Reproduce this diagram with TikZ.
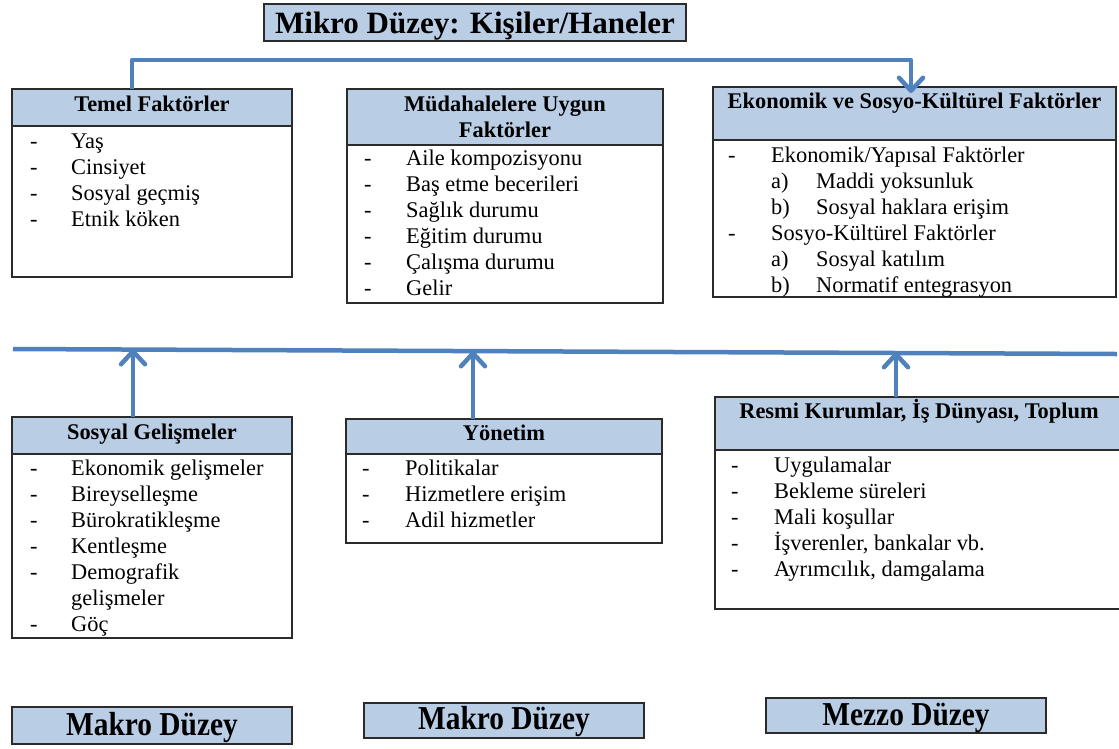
\documentclass[tikz,border=0pt]{standalone}
\usepackage{fontspec}
\setmainfont{Liberation Serif}
\newfontfamily\condfont{Liberation Serif}[FakeStretch=0.88]
\usetikzlibrary{arrows.meta,calc}
\definecolor{hdrblue}{HTML}{B9CDE5}
\definecolor{connblue}{HTML}{4F81BD}
\definecolor{edgegray}{HTML}{2B2B2B}
\begin{document}
\begin{tikzpicture}[x=1pt,y=-1pt,
 frame/.style={draw=edgegray, line width=1.4pt, inner sep=0pt, outer sep=0pt, anchor=north west},
 hdr/.style={frame, fill=hdrblue},
 bodyb/.style={frame, fill=white},
 htxt/.style={font=\fontsize{22.4}{26}\selectfont\bfseries, inner sep=0pt, anchor=base},
 itm/.style={font=\fontsize{22.4}{26}\selectfont, inner sep=0pt, anchor=base west},
 conn/.style={draw=connblue, line width=4.5pt, line join=round},
 arr/.style={conn, -{Straight Barb[length=13pt,width=24pt,round]}},
 lvl/.style={font=\condfont\fontsize{33.4}{38}\selectfont\bfseries, inner sep=0pt, anchor=base},
 ttl/.style={font=\fontsize{31}{36}\selectfont\bfseries, inner sep=0pt, anchor=base}
]
\useasboundingbox (0,0) rectangle (1119,748);

% title
\node[hdr, minimum width=422pt, minimum height=37pt] (title) at (264,4) {};
\node[ttl] (titleT) at (475,33) {Mikro Düzey: Kişiler/Haneler};

% Temel
\node[hdr, minimum width=280pt, minimum height=37pt] (temH) at (12,89) {};
\node[bodyb, minimum width=280pt, minimum height=151pt] (temB) at (temH.south west) {};
\node[htxt] (temT) at (152,111) {Temel Faktörler};
\foreach \t [count=\i from 0] in {Yaş,Cinsiyet,Sosyal geçmiş,Etnik köken}{
  \node[itm] (tem-d\i) at (30,{148+26*\i}) {-};
  \node[itm] (tem-t\i) at (71,{148+26*\i}) {\t};
}

% Mudahalelere
\node[hdr, minimum width=316pt, minimum height=56pt] (mudH) at (347,89) {};
\node[bodyb, minimum width=316pt, minimum height=158pt] (mudB) at (mudH.south west) {};
\node[htxt] (mudT1) at (505,111) {Müdahalelere Uygun};
\node[htxt] (mudT2) at (505,137) {Faktörler};
\foreach \t [count=\i from 0] in {Aile kompozisyonu,Baş etme becerileri,Sağlık durumu,Eğitim durumu,Çalışma durumu,Gelir}{
  \node[itm] (mud-d\i) at (364,{165+26*\i}) {-};
  \node[itm] (mud-t\i) at (406,{165+26*\i}) {\t};
}

% Ekonomik
\node[hdr, minimum width=403pt, minimum height=53pt] (ekoH) at (713,87) {};
\node[bodyb, minimum width=403pt, minimum height=157pt] (ekoB) at (ekoH.south west) {};
\node[htxt] (ekoT) at (914.5,108) {Ekonomik ve Sosyo-Kültürel Faktörler};
\node[itm] (eko-d0) at (728,162) {-};
\node[itm] (eko-t0) at (771,162) {Ekonomik/Yapısal Faktörler};
\node[itm] (eko-a1) at (771,188) {a)};
\node[itm] (eko-t1) at (816,188) {Maddi yoksunluk};
\node[itm] (eko-a2) at (771,214) {b)};
\node[itm] (eko-t2) at (816,214) {Sosyal haklara erişim};
\node[itm] (eko-d3) at (728,240) {-};
\node[itm] (eko-t3) at (771,240) {Sosyo-Kültürel Faktörler};
\node[itm] (eko-a4) at (771,266) {a)};
\node[itm] (eko-t4) at (816,266) {Sosyal katılım};
\node[itm] (eko-a5) at (771,292) {b)};
\node[itm] (eko-t5) at (816,292) {Normatif entegrasyon};

% Sosyal Gelismeler
\node[hdr, minimum width=280pt, minimum height=37pt] (sosH) at (12,417) {};
\node[bodyb, minimum width=280pt, minimum height=184pt] (sosB) at (sosH.south west) {};
\node[htxt] (sosT) at (152,439) {Sosyal Gelişmeler};
\foreach \t [count=\i from 0] in {Ekonomik gelişmeler,Bireyselleşme,Bürokratikleşme,Kentleşme,Demografik,gelişmeler,Göç}{
  \node[itm] (sos-t\i) at (71,{475+26*\i}) {\t};
}
\foreach \i in {0,1,2,3,4,6}{
  \node[itm] (sos-d\i) at (30,{475+26*\i}) {-};
}

% Yonetim
\node[hdr, minimum width=316pt, minimum height=35pt] (yonH) at (346,419) {};
\node[bodyb, minimum width=316pt, minimum height=89pt] (yonB) at (yonH.south west) {};
\node[htxt] (yonT) at (504,440) {Yönetim};
\foreach \t [count=\i from 0] in {Politikalar,Hizmetlere erişim,Adil hizmetler}{
  \node[itm] (yon-d\i) at (362,{475+26*\i}) {-};
  \node[itm] (yon-t\i) at (405,{475+26*\i}) {\t};
}

% Resmi Kurumlar
\node[hdr, minimum width=405pt, minimum height=53pt] (resH) at (715,397) {};
\node[bodyb, minimum width=405pt, minimum height=159pt] (resB) at (resH.south west) {};
\node[htxt] (resT) at (919,418) {Resmi Kurumlar, İş Dünyası, Toplum};
\foreach \t [count=\i from 0] in {Uygulamalar,Bekleme süreleri,Mali koşullar,{İşverenler, bankalar vb.},{Ayrımcılık, damgalama}}{
  \node[itm] (res-d\i) at (731,{472+26*\i}) {-};
  \node[itm] (res-t\i) at (774,{472+26*\i}) {\t};
}

% level labels
\node[hdr, minimum width=280pt, minimum height=37pt] (mak1) at (12,707) {};
\node[lvl] (mak1T) at (152,735) {Makro Düzey};
\node[hdr, minimum width=280pt, minimum height=35pt] (mak2) at (364,703) {};
\node[lvl] (mak2T) at (504,729) {Makro Düzey};
\node[hdr, minimum width=280pt, minimum height=35pt] (mez) at (766,698) {};
\node[lvl] (mezT) at (906,725) {Mezzo Düzey};

% connectors
\coordinate (elbow) at (520,60);
\draw[arr] ([xshift=120pt]temH.north west) |- (elbow) -| ([xshift=-3.5pt,yshift=-6pt]ekoH.north);

\coordinate (lineL) at (13,349);
\coordinate (lineR) at (1117,354);
\draw[conn] (lineL) -- (lineR);
\draw[arr] ([xshift=121pt]sosH.north west) -- ([xshift=121pt]sosH.north west |- lineL);
\draw[arr] ([xshift=127pt]yonH.north west) -- ([xshift=127pt]yonH.north west |- 0,351);
\draw[arr] ([xshift=181pt]resH.north west) -- ([xshift=181pt]resH.north west |- 0,352);
\end{tikzpicture}
\end{document}
